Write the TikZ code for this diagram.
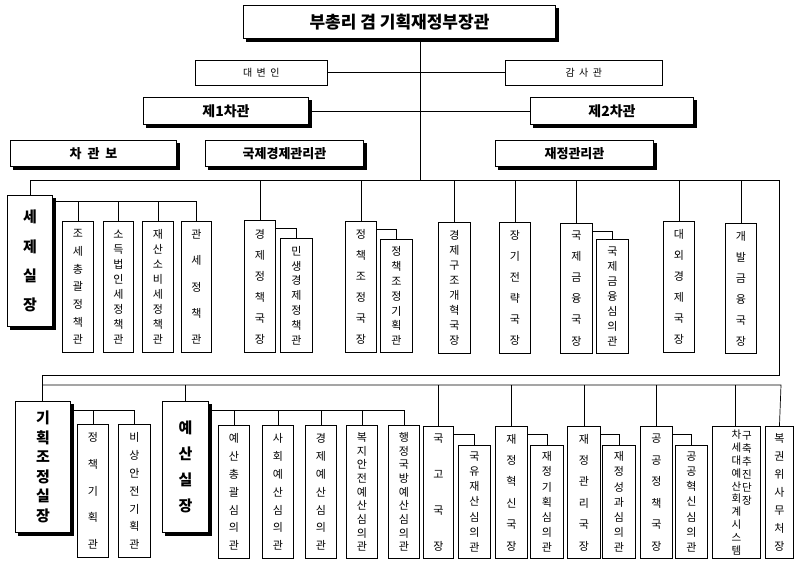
\documentclass[tikz,border=0pt]{standalone}
\usepackage{fontspec}
\setmainfont{Noto Sans CJK KR}
\usetikzlibrary{backgrounds}
\makeatletter
\newcommand\stackgen[2]{\def\st@f{1}\@tfor\st@c:=#2\do{\ifx\st@f\@empty\par#1\fi\st@c\def\st@f{}}}
\makeatother
\newcommand\V[2]{\parbox[c][#1pt][s]{1.2em}{\centering\stackgen{\vfill}{#2}}}
\newcommand\Vt[1]{\parbox{1.2em}{\centering\stackgen{}{#1}}}
\newcommand\bx[7][sub]{\node[#1,anchor=north west,minimum width={(#5-#3)*1pt},minimum height={(#6-#4)*1pt}] (#2) at (#3,#4) {#7};}
\tikzset{
 sub/.style={draw,fill=white,line width=0.9pt,inner sep=0pt,font=\fontsize{11}{13}\selectfont},
 thin/.style={draw,fill=white,line width=0.6pt,inner sep=0pt,font=\fontsize{10}{12}\selectfont},
 shad/.style={draw,fill=white,line width=1pt,inner sep=0pt,font=\bfseries\fontsize{13}{15}\selectfont},
 big/.style={shad,font=\bfseries\fontsize{15}{17}\selectfont},
 ln/.style={line width=0.7pt}
}
\begin{document}
\begin{tikzpicture}[x=1pt,y=-1pt]
\useasboundingbox (0,0) rectangle (800,563);
% top
\bx[shad,font=\bfseries\fontsize{17}{19}\selectfont]{title}{243}{5}{555}{38}{부총리 겸 기획재정부장관}
\bx[thin]{dae}{195}{60}{327}{85}{대\ \ 변\ \ 인}
\bx[thin]{gam}{505}{60}{662}{85}{감\ \ 사\ \ 관}
\bx[shad,font=\bfseries\fontsize{14}{16}\selectfont]{v1}{143}{97}{308}{124}{제1차관}
\bx[shad,font=\bfseries\fontsize{14}{16}\selectfont]{v2}{530}{97}{693}{124}{제2차관}
\bx[shad]{cha}{10}{140}{176}{166}{차\ \ 관\ \ 보}
\bx[shad]{guk}{205}{140}{363}{166}{국제경제관리관}
\bx[shad]{jae}{495}{140}{653}{166}{재정관리관}
\coordinate (bus) at (420,180);
\draw[ln] (bus |- title.south) -- (bus);
\draw[ln] (dae.east) -- (gam.west);
\draw[ln] (v1.east) -- (v1.east -| v2.west);
% row 1
\bx[big]{sj}{7}{195}{52}{326}{\V{100}{세제실장}}
\bx{s1}{62}{221}{93}{352}{\V{114}{조세총괄정책관}}
\bx{s2}{103}{221}{133}{352}{\V{114}{소득법인세정책관}}
\bx{s3}{142}{221}{173}{352}{\V{114}{재산소비세정책관}}
\bx{s4}{181}{221}{211}{352}{\V{114}{관세정책관}}
\bx{e1}{244}{220}{275}{352}{\V{114}{경제정책국장}}
\bx{e2}{280}{238}{312}{352}{\V{98}{민생경제정책관}}
\bx{p1}{345}{221}{376}{352}{\V{114}{정책조정국장}}
\bx{p2}{380}{239}{412}{352}{\V{98}{정책조정기획관}}
\bx{k1}{438}{222}{470}{353}{\V{114}{경제구조개혁국장}}
\bx{k2}{499}{222}{530}{353}{\V{114}{장기전략국장}}
\bx{k3}{560}{223}{592}{353}{\V{114}{국제금융국장}}
\bx{k4}{596}{239}{628}{353}{\V{98}{국제금융심의관}}
\bx{k5}{663}{221}{694}{352}{\V{114}{대외경제국장}}
\bx{k6}{725}{223}{756}{353}{\V{114}{개발금융국장}}
\draw[ln] (sj.north) |- (779,180) -- (779,375) -- (42,375) -- (42,401);
\foreach \n in {e1,p1,k1,k2,k3,k5,k6} \draw[ln] (\n.north) -- (\n.north |- bus);
\draw[ln] (sj.east |- 0,201) -| (s4.north);
\foreach \n in {s1,s2,s3} \draw[ln] (\n.north) -- (\n.north |- 0,201);
\draw[ln] ([yshift=-8pt]e1.north east) -| (e2.north);
\draw[ln] ([yshift=-8pt]p1.north east) -| (p2.north);
\draw[ln] ([yshift=-8pt]k3.north east) -| (k4.north);
% row 2
\coordinate (bus2) at (42,385);
\bx[big]{gj}{15}{401}{70}{532}{\V{110}{기획조정실장}}
\bx[big]{ys}{162}{401}{208}{532}{\V{90}{예산실장}}
\bx{g1}{77}{424}{108}{557}{\V{116}{정책기획관}}
\bx{g2}{118}{424}{150}{557}{\V{116}{비상안전기획관}}
\bx{y1}{218}{425}{249}{558}{\V{116}{예산총괄심의관}}
\bx{y2}{262}{425}{293}{558}{\V{116}{사회예산심의관}}
\bx{y3}{305}{425}{336}{558}{\V{116}{경제예산심의관}}
\bx{y4}{346}{425}{377}{558}{\V{118}{복지안전예산심의관}}
\bx{y5}{388}{425}{419}{558}{\V{118}{행정국방예산심의관}}
\bx{r1}{423}{426}{453}{558}{\V{116}{국고국장}}
\bx{r2}{458}{445}{490}{558}{\V{100}{국유재산심의관}}
\bx{r3}{495}{426}{527}{558}{\V{116}{재정혁신국장}}
\bx{r4}{530}{445}{563}{558}{\V{100}{재정기획심의관}}
\bx{r5}{567}{426}{600}{558}{\V{116}{재정관리국장}}
\bx{r6}{602}{445}{635}{558}{\V{100}{재정성과심의관}}
\bx{r7}{640}{426}{672}{558}{\V{116}{공공정책국장}}
\bx{r8}{675}{445}{707}{558}{\V{100}{공공혁신심의관}}
\bx[sub,font=\fontsize{10.5}{12}\selectfont]{r9}{712}{426}{760}{558}{\V{124}{차세대예산회계시스템}\hspace{16pt}}
\node[inner sep=0pt,anchor=north,font=\fontsize{10.5}{13}\selectfont] (r9b) at (747,431) {\Vt{구축추진단장}};
\bx{r10}{765}{426}{793}{558}{\V{116}{복권위사무처장}}
\draw[ln] (bus2) -- (781,385) -- (r10.north);
\foreach \n in {ys,r1,r3,r5,r7} \draw[ln] (\n.north) -- (\n.north |- bus2);
\draw[ln] (735,385) -- (r9.north -| 735,0);
\draw[ln] (gj.east |- 0,410) -| (g2.north);
\draw[ln] (g1.north) -- (g1.north |- 0,410);
\draw[ln] (ys.east |- 0,410) -| (y5.north);
\foreach \n in {y1,y2,y3,y4} \draw[ln] (\n.north) -- (\n.north |- 0,410);
\draw[ln] ([yshift=-8pt]r1.north east) -| (r2.north);
\draw[ln] ([yshift=-8pt]r3.north east) -| (r4.north);
\draw[ln] ([yshift=-8pt]r5.north east) -| (r6.north);
\draw[ln] ([yshift=-8pt]r7.north east) -| (r8.north);
\begin{pgfonlayer}{background}
\fill[white] (0,0) rectangle (800,563);
\foreach \n in {title,v1,v2,cha,guk,jae,sj,gj,ys}
  \fill[black] ([shift={(3,3)}]\n.south west) rectangle ([shift={(3,3)}]\n.north east);
\end{pgfonlayer}
\end{tikzpicture}
\end{document}
